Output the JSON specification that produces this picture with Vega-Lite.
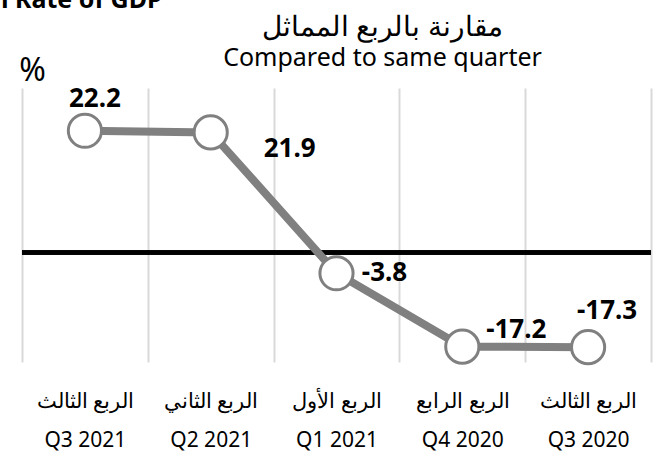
{
  "$schema": "https://vega.github.io/schema/vega-lite/v6.json",
  "width": 629,
  "height": 274,
  "autosize": "none",
  "padding": {"left": 22, "top": 88, "right": 5, "bottom": 105},
  "background": "white",
  "config": {"view": {"stroke": null}},
  "title": {
    "text": "مقارنة بالربع المماثل",
    "subtitle": "Compared to same quarter",
    "anchor": "middle",
    "dx": 46,
    "font": "Noto Sans",
    "fontSize": 28,
    "fontWeight": "normal",
    "color": "black",
    "subtitleFont": "Noto Sans",
    "subtitleFontSize": 25,
    "subtitleColor": "black",
    "subtitlePadding": 4,
    "offset": -84
  },
  "data": {
    "values": [
      {"label": "الربع الثالث|Q3 2021", "value": 22.2},
      {"label": "الربع الثاني|Q2 2021", "value": 21.9},
      {"label": "الربع الأول|Q1 2021", "value": -3.8},
      {"label": "الربع الرابع|Q4 2020", "value": -17.2},
      {"label": "الربع الثالث|Q3 2020", "value": -17.3}
    ]
  },
  "resolve": {"axis": {"x": "shared", "y": "shared"}},
  "layer": [
    {
      "mark": {"type": "rule", "color": "black", "strokeWidth": 4},
      "encoding": {
        "y": {"datum": 0, "type": "quantitative", "scale": {"domain": [-20, 30]}}
      }
    },
    {
      "mark": {"type": "line", "color": "#808080", "strokeWidth": 8},
      "encoding": {
        "x": {
          "field": "label", "type": "nominal", "sort": null,
          "scale": {"type": "band", "paddingInner": 0, "paddingOuter": 0},
          "axis": {
            "title": "Growth Rate of GDP",
            "titleX": 140,
            "titleY": -355,
            "titleAlign": "right",
            "titleBaseline": "alphabetic",
            "titleFont": "Noto Sans",
            "titleFontSize": 25,
            "titleFontWeight": "bold",
            "titleColor": "black",
            "orient": "bottom",
            "domain": false,
            "ticks": false,
            "grid": true,
            "tickBand": "extent",
            "gridColor": "#d9d9d9",
            "gridWidth": 2,
            "labelAngle": 0,
            "labelExpr": "isString(datum.value) ? split(datum.value, '|') : ''",
            "labelFont": "Noto Sans",
            "labelFontSize": 21,
            "labelColor": "black",
            "labelLineHeight": 39,
            "labelPadding": 28,
            "labelBaseline": "top"
          }
        },
        "y": {
          "field": "value", "type": "quantitative",
          "scale": {"domain": [-20, 30], "nice": false, "zero": false},
          "axis": {
            "title": "%",
            "orient": "left",
            "domain": false,
            "ticks": false,
            "labels": false,
            "grid": false,
            "titleAngle": 0,
            "titleX": 10,
            "titleY": -18,
            "titleAlign": "center",
            "titleBaseline": "middle",
            "titleFont": "Noto Sans",
            "titleFontSize": 32,
            "titleFontWeight": "normal",
            "titleColor": "black"
          }
        }
      }
    },
    {
      "mark": {"type": "point", "shape": "circle", "filled": true, "fill": "white", "stroke": "#808080", "strokeWidth": 3, "size": 1100, "opacity": 1},
      "encoding": {
        "x": {"field": "label", "type": "nominal", "sort": null},
        "y": {"field": "value", "type": "quantitative"}
      }
    },
    {
      "transform": [{"filter": "datum.value == 22.2"}],
      "mark": {"type": "text", "font": "Noto Sans", "fontWeight": "bold", "fontSize": 26, "color": "black", "dx": 10, "dy": -32},
      "encoding": {
        "x": {"field": "label", "type": "nominal", "sort": null},
        "y": {"field": "value", "type": "quantitative"},
        "text": {"field": "value", "type": "nominal"}
      }
    },
    {
      "transform": [{"filter": "datum.value == 21.9"}],
      "mark": {"type": "text", "font": "Noto Sans", "fontWeight": "bold", "fontSize": 26, "color": "black", "dx": 79, "dy": 17},
      "encoding": {
        "x": {"field": "label", "type": "nominal", "sort": null},
        "y": {"field": "value", "type": "quantitative"},
        "text": {"field": "value", "type": "nominal"}
      }
    },
    {
      "transform": [{"filter": "datum.value == -3.8"}],
      "mark": {"type": "text", "font": "Noto Sans", "fontWeight": "bold", "fontSize": 26, "color": "black", "dx": 48, "dy": 0},
      "encoding": {
        "x": {"field": "label", "type": "nominal", "sort": null},
        "y": {"field": "value", "type": "quantitative"},
        "text": {"field": "value", "type": "nominal"}
      }
    },
    {
      "transform": [{"filter": "datum.value == -17.2"}],
      "mark": {"type": "text", "font": "Noto Sans", "fontWeight": "bold", "fontSize": 26, "color": "black", "dx": 54, "dy": -17},
      "encoding": {
        "x": {"field": "label", "type": "nominal", "sort": null},
        "y": {"field": "value", "type": "quantitative"},
        "text": {"field": "value", "type": "nominal"}
      }
    },
    {
      "transform": [{"filter": "datum.value == -17.3"}],
      "mark": {"type": "text", "font": "Noto Sans", "fontWeight": "bold", "fontSize": 26, "color": "black", "dx": 19, "dy": -36},
      "encoding": {
        "x": {"field": "label", "type": "nominal", "sort": null},
        "y": {"field": "value", "type": "quantitative"},
        "text": {"field": "value", "type": "nominal"}
      }
    }
  ]
}
